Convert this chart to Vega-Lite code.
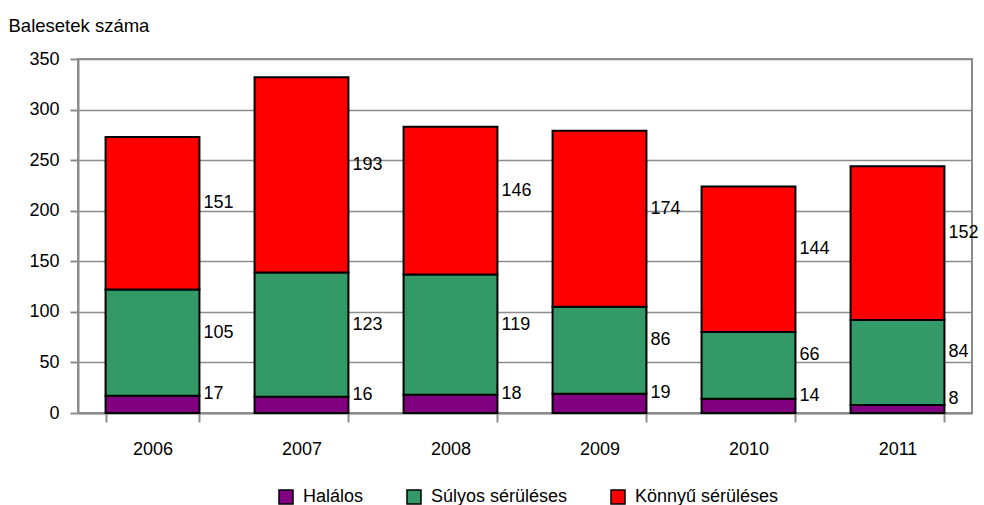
{
  "$schema": "https://vega.github.io/schema/vega-lite/v6.json",
  "autosize": {"type": "none"},
  "width": 894,
  "height": 354,
  "padding": {"left": 78, "top": 59, "right": 12, "bottom": 92},
  "background": "white",
  "data": {"values": [
    {"ev": "2006", "kat": "Halálos", "rend": 1, "v": 17},
    {"ev": "2006", "kat": "Súlyos sérüléses", "rend": 2, "v": 105},
    {"ev": "2006", "kat": "Könnyű sérüléses", "rend": 3, "v": 151},
    {"ev": "2007", "kat": "Halálos", "rend": 1, "v": 16},
    {"ev": "2007", "kat": "Súlyos sérüléses", "rend": 2, "v": 123},
    {"ev": "2007", "kat": "Könnyű sérüléses", "rend": 3, "v": 193},
    {"ev": "2008", "kat": "Halálos", "rend": 1, "v": 18},
    {"ev": "2008", "kat": "Súlyos sérüléses", "rend": 2, "v": 119},
    {"ev": "2008", "kat": "Könnyű sérüléses", "rend": 3, "v": 146},
    {"ev": "2009", "kat": "Halálos", "rend": 1, "v": 19},
    {"ev": "2009", "kat": "Súlyos sérüléses", "rend": 2, "v": 86},
    {"ev": "2009", "kat": "Könnyű sérüléses", "rend": 3, "v": 174},
    {"ev": "2010", "kat": "Halálos", "rend": 1, "v": 14},
    {"ev": "2010", "kat": "Súlyos sérüléses", "rend": 2, "v": 66},
    {"ev": "2010", "kat": "Könnyű sérüléses", "rend": 3, "v": 144},
    {"ev": "2011", "kat": "Halálos", "rend": 1, "v": 8},
    {"ev": "2011", "kat": "Súlyos sérüléses", "rend": 2, "v": 84},
    {"ev": "2011", "kat": "Könnyű sérüléses", "rend": 3, "v": 152}
  ]},
  "transform": [
    {"stack": "v", "groupby": ["ev"], "sort": [{"field": "rend", "order": "ascending"}], "as": ["v0", "v1"]},
    {"calculate": "(datum.v0 + datum.v1) / 2", "as": "mid"}
  ],
  "encoding": {
    "x": {
      "field": "ev", "type": "ordinal", "title": null,
      "scale": {"paddingInner": 0.37, "paddingOuter": 0.185},
      "axis": {
        "labelAngle": 0, "labelFontSize": 18, "labelColor": "black", "labelFont": "Liberation Sans",
        "labelPadding": 18, "tickBand": "extent", "tickSize": 9, "tickColor": "#8c8c8c", "tickWidth": 2,
        "domainColor": "#8c8c8c", "domainWidth": 2, "grid": false
      }
    }
  },
  "layer": [
    {
      "mark": {"type": "bar", "stroke": "black", "strokeWidth": 2},
      "encoding": {
        "y": {
          "field": "v0", "type": "quantitative",
          "scale": {"domain": [0, 350]},
          "axis": {
            "values": [0, 50, 100, 150, 200, 250, 300, 350],
            "title": "Balesetek száma", "titleAngle": 0, "titleX": -70, "titleY": -34,
            "titleAlign": "left", "titleBaseline": "middle", "titleFontSize": 18.5,
            "titleFontWeight": "normal", "titleFont": "Liberation Sans", "titleColor": "black",
            "labelFontSize": 18, "labelColor": "black", "labelFont": "Liberation Sans", "labelPadding": 11,
            "tickSize": 8, "tickColor": "#8c8c8c", "tickWidth": 2,
            "domainColor": "#8c8c8c", "domainWidth": 2,
            "grid": true, "gridColor": "#8c8c8c", "gridWidth": 1.5
          }
        },
        "y2": {"field": "v1"},
        "color": {
          "field": "kat", "type": "nominal",
          "sort": ["Halálos", "Súlyos sérüléses", "Könnyű sérüléses"],
          "scale": {"domain": ["Halálos", "Súlyos sérüléses", "Könnyű sérüléses"], "range": ["#800080", "#339966", "#ff0000"]},
          "legend": {
            "title": null, "orient": "none", "direction": "horizontal",
            "legendX": 199, "legendY": 429,
            "symbolType": "square", "symbolSize": 196, "symbolStrokeColor": "black", "symbolStrokeWidth": 1.5,
            "symbolOpacity": 1, "labelFontSize": 18, "labelFont": "Liberation Sans", "labelColor": "black",
            "labelOffset": 8, "columnPadding": 40, "labelLimit": 300
          }
        }
      }
    },
    {
      "mark": {"type": "text", "align": "left", "baseline": "middle", "dx": 51, "dy": -10, "fontSize": 18, "font": "Liberation Sans", "color": "black"},
      "encoding": {
        "y": {"field": "mid", "type": "quantitative"},
        "text": {"field": "v", "type": "quantitative"}
      }
    }
  ],
  "config": {
    "view": {"stroke": "#8c8c8c", "strokeWidth": 2}
  }
}
